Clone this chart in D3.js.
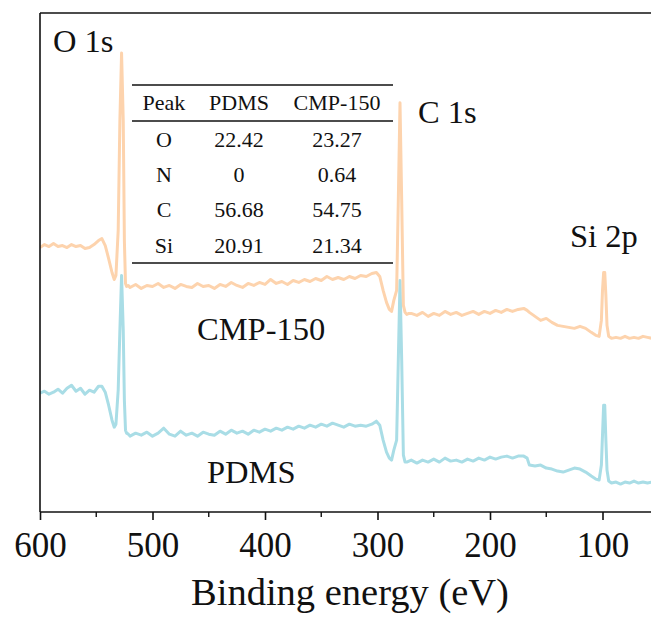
<!DOCTYPE html>
<html>
<head>
<meta charset="utf-8">
<script src="https://cdn.jsdelivr.net/npm/d3@7"></script>
<style>
  html, body { margin: 0; padding: 0; background: #fff; overflow: hidden; }
  svg text { font-family: "Liberation Serif", "Times New Roman", serif; fill: #111; }
</style>
</head>
<body>
<svg id="chart"></svg>
<script>
// binding energy (eV), shared by both spectra
const energy = [
  600, 596, 592, 588, 584, 580, 576, 572, 568, 564, 560, 556, 552, 548, 545, 542, 539, 536, 534, 532.5,
  530.5, 529, 527.5, 526, 525, 524, 523, 521.5,
  520, 515, 510, 505, 500, 495, 490, 485, 480, 475, 470, 465, 460, 455, 450, 445, 440, 435, 430, 425,
  420, 415, 410, 405, 400, 395, 390, 385, 380, 375, 370, 365, 360, 355, 350, 345, 340, 335, 330, 325,
  320, 315, 310, 305,
  301, 298, 295, 292, 289.5, 287.5, 285.5, 283, 281.5, 280, 278.5, 277, 275.5, 274, 272,
  270, 265, 260, 255, 250, 245, 240, 235, 230, 225, 220, 215, 210, 205, 200, 195, 190, 185, 180, 175,
  170, 167,
  165, 160, 155, 150, 145, 140, 135, 130, 125, 120, 115, 110, 106, 103, 101, 100, 99, 98, 97, 96, 94.5, 92,
  88, 84, 80, 76, 72, 68, 64, 60, 56
];

// intensity (counts, offset stacked)
const cmp150 = [
  26500, 26800, 26600, 26900, 26600, 26700, 26500, 26800, 26600, 26700, 26400, 26500, 26800, 27200, 27400, 26700, 25400, 24000, 23300, 23700,
  28200, 39200, 46000, 39200, 27200, 22900, 22600, 22700,
  22500, 22800, 22400, 22700, 22600, 22900, 22500, 22700, 22400, 22800, 22600, 22500, 22900, 22600, 22700, 22400, 22800, 22600, 23000, 22700,
  22500, 22900, 22700, 23000, 22800, 23300, 22900, 23100, 22800, 23200, 23000, 23300, 23100, 23400, 23200, 23600, 23300, 23500, 23300, 23600,
  23400, 23700, 23600, 23900,
  24000, 23600, 22200, 21000, 20300, 20100, 21200, 22200, 31200, 41000, 31200, 20700, 20000, 19800, 19900,
  19900, 19700, 20000, 19600, 19900, 19700, 20100, 19800, 20000, 19700, 19900, 20100, 19800, 20100, 19900, 20200, 20000, 20300, 20100, 20300,
  20400, 20200,
  20000, 19600, 19200, 19400, 19000, 18700, 18600, 18500, 18400, 18600, 18400, 18000, 17700, 17600, 19200, 22200, 24000, 24000, 21700, 18700, 17600, 17400,
  17500, 17400, 17600, 17400, 17500, 17400, 17600, 17500, 17400
];

const pdms = [
  11900, 12100, 11800, 12000, 12300, 11900, 12400, 12700, 12100, 12400, 11800, 12200, 12000, 12600, 12600, 12000, 10700, 9200, 8500, 8800,
  12200, 18200, 23700, 18200, 11200, 8200, 7900, 7800,
  7600, 7900, 7700, 8000, 7600, 7900, 8400, 7800, 7600, 8100, 7700, 7900, 7600, 8000, 7800, 7700, 8100, 7800, 8200, 7900,
  8100, 7800, 8200, 8000, 8300, 8100, 8400, 8200, 8500, 8300, 8600, 8400, 8700, 8500, 8800, 8600, 8900, 8700, 8500, 8800,
  8600, 8700, 8600, 8800,
  9100, 8700, 7200, 6000, 5400, 5200, 6200, 7200, 15200, 23200, 15200, 5700, 5000, 5000, 5100,
  5200, 4900, 5200, 5000, 5300, 5000, 5400, 5100, 5200, 5000, 5300, 5100, 5400, 5200, 5500, 5300, 5500, 5600, 5400, 5600,
  5600, 5400,
  4700, 4600, 4700, 4400, 4300, 4100, 4000, 4200, 4400, 4300, 4000, 3600, 3300, 3200, 4700, 7700, 10700, 10700, 7200, 4200, 3100, 2900,
  3000, 2800, 3000, 2900, 3100, 2900, 3000, 2900, 3000
];

const majorTicks = [600, 500, 400, 300, 200, 100];
const minorTicks = [550, 450, 350, 250, 150];

// table of atomic percentages
const tableHeader = ["Peak", "PDMS", "CMP-150"];
const tableRows = [
  ["O", "22.42", "23.27"],
  ["N", "0", "0.64"],
  ["C", "56.68", "54.75"],
  ["Si", "20.91", "21.34"]
];

const width = 651;
const height = 617;
const margin = { top: 13, left: 40, bottom: 105 };
const serif = "'Liberation Serif', 'Times New Roman', serif";

const svg = d3.select("#chart")
  .attr("width", width)
  .attr("height", height);

const x = d3.scaleLinear()
  .domain([600, 0])
  .range([margin.left, margin.left + 675]);

const y = d3.scaleLinear()
  .domain([0, 50000])
  .range([height - margin.bottom, margin.top]);

const plotRight = width + 2;
const axisY = height - margin.bottom;

svg.append("clipPath")
  .attr("id", "plot-clip")
  .append("rect")
  .attr("x", margin.left)
  .attr("y", margin.top)
  .attr("width", plotRight - margin.left)
  .attr("height", axisY - margin.top);

const series = [
  { name: "PDMS", color: "#a9dde6", values: pdms },
  { name: "CMP-150", color: "#fdd3ad", values: cmp150 }
];

const line = d3.line()
  .x((d, i) => x(energy[i]))
  .y(d => y(d));

const plot = svg.append("g").attr("clip-path", "url(#plot-clip)");
series.forEach(s => {
  plot.append("path")
    .datum(s.values)
    .attr("fill", "none")
    .attr("stroke", s.color)
    .attr("stroke-width", 3)
    .attr("stroke-linejoin", "round")
    .attr("d", line);
});

// frame: left, top and bottom (right side is cut off)
svg.append("line")
  .attr("x1", margin.left).attr("x2", margin.left)
  .attr("y1", margin.top).attr("y2", axisY)
  .attr("stroke", "#111").attr("stroke-width", 1.6);
svg.append("line")
  .attr("x1", margin.left).attr("x2", plotRight)
  .attr("y1", margin.top).attr("y2", margin.top)
  .attr("stroke", "#111").attr("stroke-width", 1.6);

const xAxis = d3.axisBottom(x)
  .tickValues(majorTicks)
  .tickSize(8)
  .tickPadding(12)
  .tickFormat(d3.format("d"));
const xAxisG = svg.append("g")
  .attr("transform", `translate(0,${axisY})`)
  .call(xAxis)
  .attr("font-family", null)
  .attr("font-size", null);
xAxisG.select(".domain")
  .attr("d", `M${margin.left},0H${plotRight}`)
  .attr("stroke", "#111")
  .attr("stroke-width", 1.6);
xAxisG.selectAll(".tick line").attr("stroke", "#111").attr("stroke-width", 1.6);
xAxisG.selectAll(".tick text")
  .style("font-family", serif)
  .style("font-size", "35px")
  .attr("fill", "#111");

svg.append("g")
  .selectAll("line")
  .data(minorTicks)
  .enter()
  .append("line")
  .attr("x1", d => x(d)).attr("x2", d => x(d))
  .attr("y1", axisY).attr("y2", axisY + 5)
  .attr("stroke", "#111").attr("stroke-width", 1.4);

svg.append("text")
  .attr("x", 350)
  .attr("y", 605)
  .attr("text-anchor", "middle")
  .style("font-family", serif)
  .style("font-size", "38.5px")
  .text("Binding energy (eV)");

// peak and sample labels
const labels = [
  { text: "O 1s", x: 53, y: 52 },
  { text: "C 1s", x: 418, y: 123 },
  { text: "Si 2p", x: 570, y: 247 },
  { text: "CMP-150", x: 197, y: 340 },
  { text: "PDMS", x: 207, y: 483 }
];
svg.append("g")
  .selectAll("text")
  .data(labels)
  .enter()
  .append("text")
  .attr("x", d => d.x)
  .attr("y", d => d.y)
  .style("font-family", serif)
  .style("font-size", "32.5px")
  .text(d => d.text);

// inset table
const table = svg.append("g");
const colX = [164, 239, 337];
const rowY = [147, 182, 217, 253];
const tableLeft = 132, tableRight = 393;

[85, 121, 263].forEach((ly, i) => {
  table.append("line")
    .attr("x1", tableLeft).attr("x2", tableRight)
    .attr("y1", ly).attr("y2", ly)
    .attr("stroke", "#111")
    .attr("stroke-width", i === 1 ? 1.3 : 1.6);
});

table.selectAll(".hdr")
  .data(tableHeader)
  .enter()
  .append("text")
  .attr("class", "hdr")
  .attr("x", (d, i) => colX[i])
  .attr("y", 110)
  .attr("text-anchor", "middle")
  .style("font-family", serif)
  .style("font-size", "22px")
  .text(d => d);

tableRows.forEach((row, r) => {
  table.selectAll(`.row${r}`)
    .data(row)
    .enter()
    .append("text")
    .attr("class", `row${r}`)
    .attr("x", (d, i) => colX[i])
    .attr("y", rowY[r])
    .attr("text-anchor", "middle")
    .style("font-family", serif)
    .style("font-size", "22px")
    .text(d => d);
});
</script>
</body>
</html>
